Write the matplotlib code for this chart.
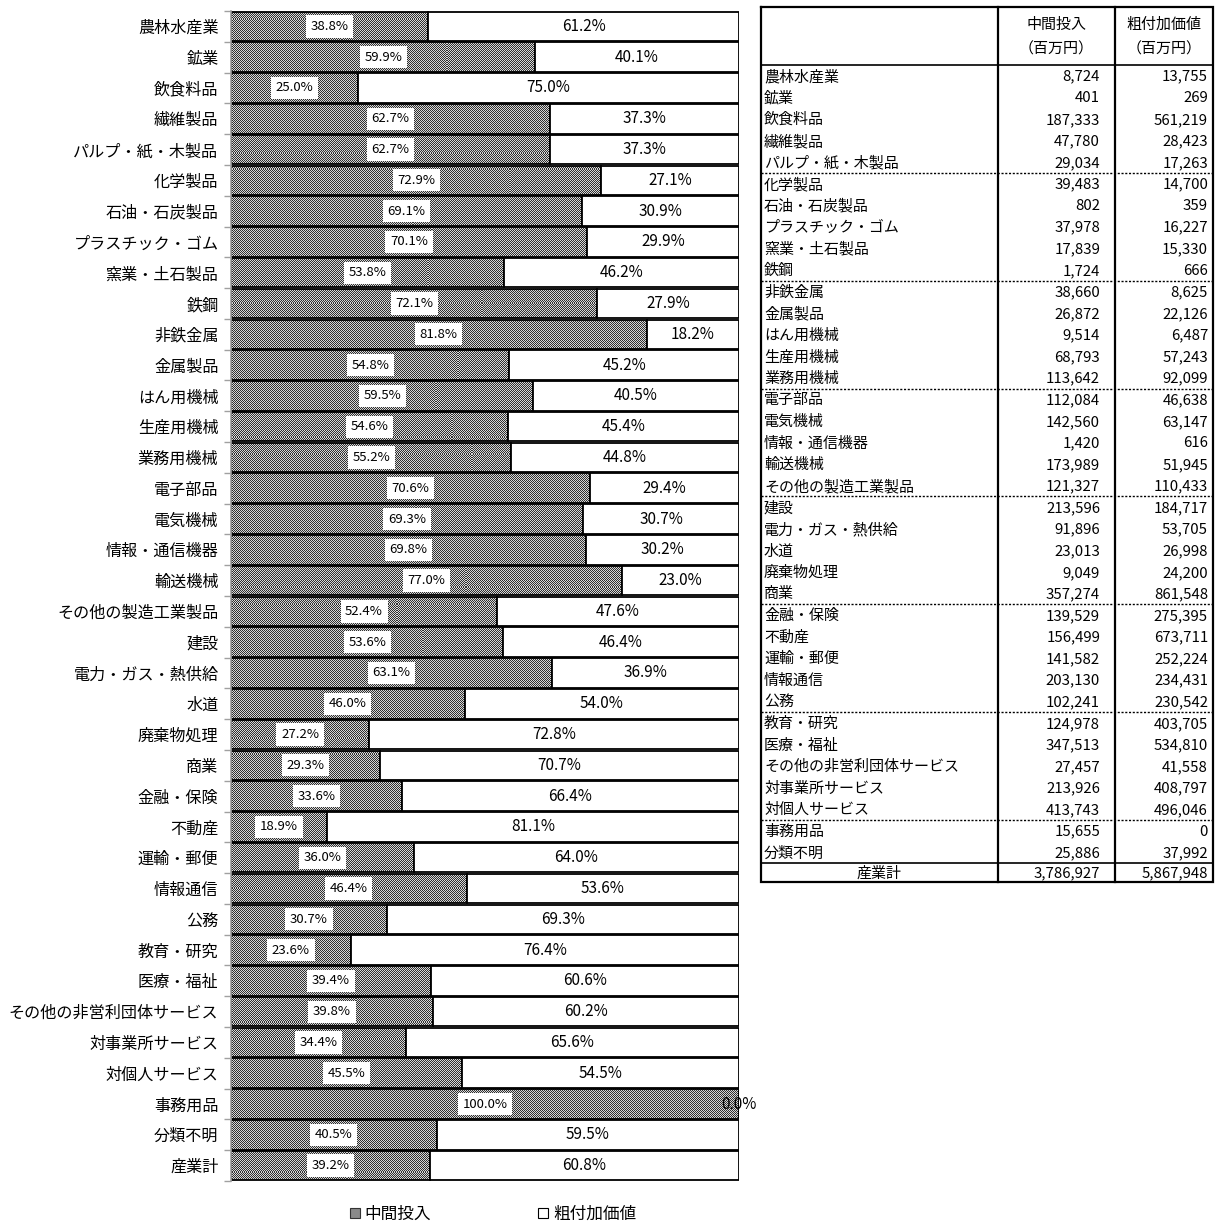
import numpy as np
import matplotlib
matplotlib.use("Agg")
import matplotlib.pyplot as plt
from matplotlib.patches import Patch
from matplotlib.ticker import FixedLocator

plt.rcParams['font.family'] = ['Noto Sans CJK JP', 'DejaVu Sans']

# 産業別 中間投入・粗付加価値（百万円）
industries = [
    "農林水産業", "鉱業", "飲食料品", "繊維製品", "パルプ・紙・木製品",
    "化学製品", "石油・石炭製品", "プラスチック・ゴム", "窯業・土石製品", "鉄鋼",
    "非鉄金属", "金属製品", "はん用機械", "生産用機械", "業務用機械",
    "電子部品", "電気機械", "情報・通信機器", "輸送機械", "その他の製造工業製品",
    "建設", "電力・ガス・熱供給", "水道", "廃棄物処理", "商業",
    "金融・保険", "不動産", "運輸・郵便", "情報通信", "公務",
    "教育・研究", "医療・福祉", "その他の非営利団体サービス", "対事業所サービス", "対個人サービス",
    "事務用品", "分類不明",
]
intermediate = [
    8724, 401, 187333, 47780, 29034,
    39483, 802, 37978, 17839, 1724,
    38660, 26872, 9514, 68793, 113642,
    112084, 142560, 1420, 173989, 121327,
    213596, 91896, 23013, 9049, 357274,
    139529, 156499, 141582, 203130, 102241,
    124978, 347513, 27457, 213926, 413743,
    15655, 25886,
]
value_added = [
    13755, 269, 561219, 28423, 17263,
    14700, 359, 16227, 15330, 666,
    8625, 22126, 6487, 57243, 92099,
    46638, 63147, 616, 51945, 110433,
    184717, 53705, 26998, 24200, 861548,
    275395, 673711, 252224, 234431, 230542,
    403705, 534810, 41558, 408797, 496046,
    0, 37992,
]
total_label = "産業計"
intermediate_total = 3786927
value_added_total = 5867948

# 中間投入の構成比（%）、産業計を含む
share_inter = [
    38.8, 59.9, 25.0, 62.7, 62.7,
    72.9, 69.1, 70.1, 53.8, 72.1,
    81.8, 54.8, 59.5, 54.6, 55.2,
    70.6, 69.3, 69.8, 77.0, 52.4,
    53.6, 63.1, 46.0, 27.2, 29.3,
    33.6, 18.9, 36.0, 46.4, 30.7,
    23.6, 39.4, 39.8, 34.4, 45.5,
    100.0, 40.5, 39.2,
]

series_names = ["中間投入", "粗付加価値"]
unit_label = "（百万円）"

bar_labels = industries + [total_label]
share_inter = np.array(share_inter)
share_va = np.round(100 - share_inter, 1)

W, H, DPI = 1220, 1224, 100
fig = plt.figure(figsize=(W / DPI, H / DPI), dpi=DPI)
fig.patch.set_facecolor("white")

ax_l, ax_r, ax_t, ax_b = 231, 739, 11, 1181
ax = fig.add_axes([ax_l / W, 1 - ax_b / H, (ax_r - ax_l) / W, (ax_b - ax_t) / H])

n = len(bar_labels)
ypos = np.arange(n)
bar_h = 0.96

# fine checker pattern used as the fill of the 中間投入 segments
ph, pw = ax_b - ax_t, ax_r - ax_l
yy, xx = np.mgrid[0:ph, 0:pw]
checker = ((yy + xx) % 2).astype(float)

inter_bars = ax.barh(ypos, share_inter, height=bar_h, color="none",
                     edgecolor="black", linewidth=1.3, zorder=2)
ax.barh(ypos, share_va, left=share_inter, height=bar_h, color="white",
        edgecolor="black", linewidth=1.3, zorder=2)

for bar in inter_bars:
    im = ax.imshow(checker, extent=(0, 100, n - 0.5, -0.5), cmap="gray",
                   vmin=-0.3, vmax=1.25, interpolation="nearest",
                   aspect="auto", zorder=1)
    im.set_clip_path(bar)

for y, si, sv in zip(ypos, share_inter, share_va):
    ax.text(si / 2, y, f"{si:.1f}%", ha="center", va="center", fontsize=9.5,
            zorder=4, bbox=dict(boxstyle="square,pad=0.35", fc="white", ec="none"))
    ax.text(si + sv / 2, y, f"{sv:.1f}%", ha="center", va="center",
            fontsize=11, zorder=4)

ax.set_xlim(0, 100)
ax.set_ylim(n - 0.5, -0.5)
ax.set_yticks(ypos)
ax.set_yticklabels(bar_labels, fontsize=11.6)
ax.yaxis.set_minor_locator(FixedLocator(np.arange(-0.5, n, 1.0)))
ax.tick_params(axis="y", which="major", length=0, pad=9)
ax.tick_params(axis="y", which="minor", length=5, color="#a0a0a0", width=1)
ax.set_xticks([])
for side in ("top", "right", "bottom"):
    ax.spines[side].set_visible(False)
ax.spines["left"].set_color("#a0a0a0")
ax.spines["left"].set_linewidth(1.2)

fig.legend(
    handles=[Patch(facecolor="#8a8a8a", edgecolor="#333333", linewidth=0.8),
             Patch(facecolor="white", edgecolor="black", linewidth=0.8)],
    labels=series_names, loc="center", bbox_to_anchor=(0.404, 0.0078),
    ncol=2, frameon=False, fontsize=12, handlelength=0.6, handleheight=0.6,
    handletextpad=0.3, columnspacing=6.4,
)

# ── data table on the right ──
tab = fig.add_axes([0, 0, 1, 1])
tab.set_xlim(0, W)
tab.set_ylim(H, 0)
tab.axis("off")

t_l, t_c1, t_c2, t_r = 761, 998, 1115, 1213
t_top, head_bot = 7, 65
row_h = 21.57
rows_bot = head_bot + row_h * len(industries)
t_bot = rows_bot + 19
fs = 10.8

def fmt(v):
    return f"{v:,}"

# header
for cx, name in [((t_c1 + t_c2) / 2, series_names[0]), ((t_c2 + t_r) / 2, series_names[1])]:
    tab.text(cx, 25, name, ha="center", va="center", fontsize=fs)
    tab.text(cx, 49, unit_label, ha="center", va="center", fontsize=fs)

# body rows
for i, (name, a, b) in enumerate(zip(industries, intermediate, value_added)):
    cy = head_bot + row_h * (i + 0.5) + 1
    tab.text(t_l + 3, cy, name, ha="left", va="center", fontsize=fs)
    tab.text(t_c2 - 15, cy, fmt(a), ha="right", va="center", fontsize=fs)
    tab.text(t_r - 5, cy, fmt(b), ha="right", va="center", fontsize=fs)
    if i % 5 == 4 and i < len(industries) - 1:
        yb = head_bot + row_h * (i + 1)
        tab.plot([t_l, t_r], [yb, yb], color="black", lw=1.0,
                 linestyle=(0, (1.5, 1.2)))

# total row
cy = (rows_bot + t_bot) / 2 + 0.5
tab.text((t_l + t_c1) / 2, cy, total_label, ha="center", va="center", fontsize=fs)
tab.text(t_c2 - 15, cy, fmt(intermediate_total), ha="right", va="center", fontsize=fs)
tab.text(t_r - 5, cy, fmt(value_added_total), ha="right", va="center", fontsize=fs)

# grid lines
tab.plot([t_l, t_r, t_r, t_l, t_l], [t_top, t_top, t_bot, t_bot, t_top],
         color="black", lw=1.6, solid_joinstyle="miter")
for x in (t_c1, t_c2):
    tab.plot([x, x], [t_top, t_bot], color="black", lw=1.6)
for y in (head_bot, rows_bot):
    tab.plot([t_l, t_r], [y, y], color="black", lw=1.2)

fig.savefig("out.png", dpi=DPI, facecolor="white")
